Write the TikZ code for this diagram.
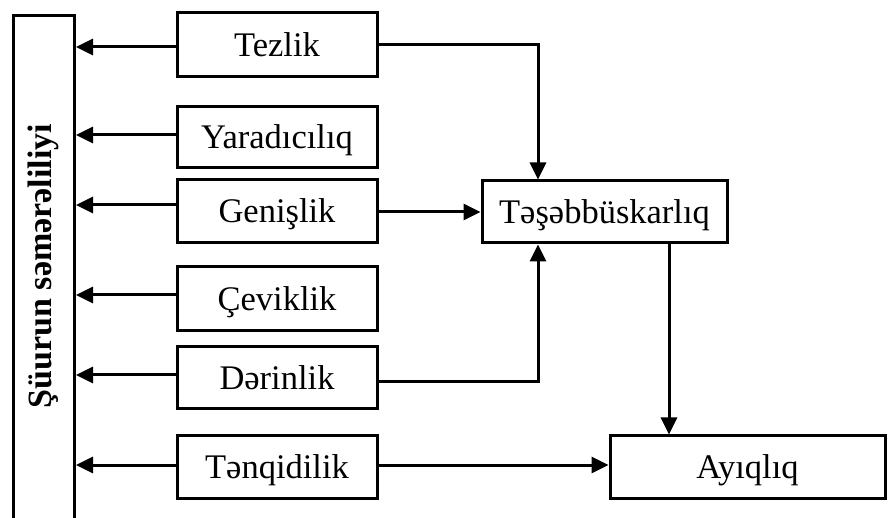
\documentclass[tikz,border=0pt]{standalone}
\usepackage{fontspec}
\setmainfont{Liberation Serif}
\usetikzlibrary{arrows.meta}
\begin{document}
\begin{tikzpicture}[x=1pt,y=-1pt,
  box/.style={draw, line width=3pt, inner sep=0pt, minimum height=62pt,
    text height=27pt, text depth=4pt, font=\fontsize{34.5}{38}\selectfont},
  smallbox/.style={box, minimum width=200pt},
  arr/.style={line width=3pt, -{Triangle[length=17pt,width=16pt]}},
  ln/.style={line width=3pt}]
\useasboundingbox (0,0) rectangle (889,518);
\node[draw, line width=3pt, inner sep=0pt, minimum width=61pt, minimum height=530pt, anchor=north west] (main) at (12,14) {};
\node[rotate=90, font=\fontsize{34}{38}\selectfont\bfseries] (mainlabel) at (43,266) {Şüurun səmərəliliyi};
\node[smallbox, minimum height=64pt] (tez) at (277,45) {Tezlik};
\node[smallbox, minimum height=61pt] (yar) at (277,137.5) {Yaradıcılıq};
\node[smallbox, minimum height=63pt] (gen) at (277,211.5) {Genişlik};
\node[smallbox, minimum height=64pt] (cev) at (277,299) {Çeviklik};
\node[smallbox, minimum height=62pt] (der) at (277,378) {Dərinlik};
\node[smallbox, minimum height=62pt] (ten) at (277,467) {Tənqidilik};
\node[box, minimum width=245pt] (tes) at (604.5,212) {Təşəbbüskarlıq};
\node[box, minimum width=275pt] (ayi) at (747.5,467) {Ayıqlıq};
% arrows to main box
\draw[arr] (tez.west |- 0,47) -- (main.east |- 0,47);
\draw[arr] (yar.west |- 0,135) -- (main.east |- 0,135);
\draw[arr] (gen.west |- 0,205) -- (main.east |- 0,205);
\draw[arr] (cev.west |- 0,295) -- (main.east |- 0,295);
\draw[arr] (der.west |- 0,375) -- (main.east |- 0,375);
\draw[arr] (ten.west |- 0,465) -- (main.east |- 0,465);
% flows
\coordinate (tezc) at (538,45);
\coordinate (derc) at (538,382);
\draw[arr] (tez.east) -- (tezc) -- (tezc |- tes.north);
\draw[arr] (gen.east |- tes.west) -- (tes.west);
\draw[arr] (der.east |- derc) -- (derc) -- (derc |- tes.south);
\draw[arr] (tes.south -| 669,0) -- (ayi.north -| 669,0);
\draw[arr] (ten.east |- 0,465) -- (ayi.west |- 0,465);
\end{tikzpicture}
\end{document}
